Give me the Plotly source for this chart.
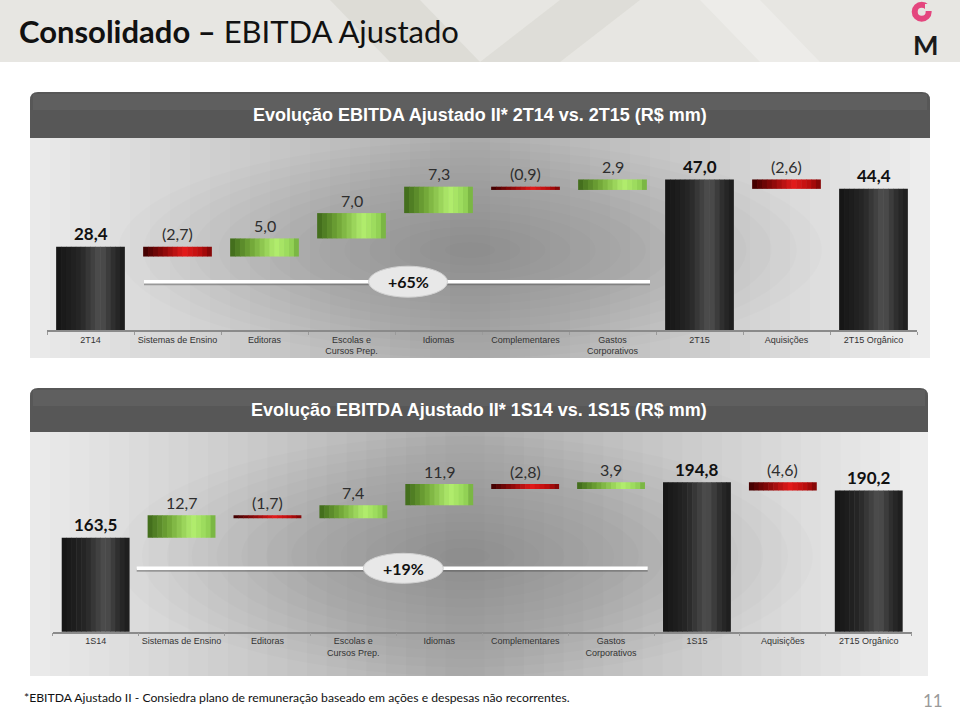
import plotly.graph_objects as go

W, H = 960, 712

# ---------------- data ----------------
cats_q = ["2T14", "Sistemas de Ensino", "Editoras", "Escolas e<br>Cursos Prep.", "Idiomas",
          "Complementares", "Gastos<br>Corporativos", "2T15", "Aquisições", "2T15 Orgânico"]
vals_q = [28.4, -2.7, 5.0, 7.0, 7.3, -0.9, 2.9, 47.0, -2.6, 44.4]

cats_s = ["1S14", "Sistemas de Ensino", "Editoras", "Escolas e<br>Cursos Prep.", "Idiomas",
          "Complementares", "Gastos<br>Corporativos", "1S15", "Aquisições", "2T15 Orgânico"]
vals_s = [163.5, 12.7, -1.7, 7.4, 11.9, -2.8, 3.9, 194.8, -4.6, 190.2]

measures = ["absolute", "relative", "relative", "relative", "relative", "relative",
            "relative", "absolute", "relative", "absolute"]

title_q = "Evolução EBITDA Ajustado II* 2T14 vs. 2T15 (R$ mm)"
title_s = "Evolução EBITDA Ajustado II* 1S14 vs. 1S15 (R$ mm)"
growth_q = "+65%"
growth_s = "+19%"
page_title_bold = "Consolidado –"
page_title_rest = "EBITDA Ajustado"
footnote = "*EBITDA Ajustado II - Consiedra plano de remuneração baseado em ações e despesas não recorrentes."
page_number = "11"

# ---------------- helpers ----------------
def PX(x):
    return x / W


def PY(y):
    return 1 - y / H


def waterfall(vals, meas):
    bases, heights, kinds = [], [], []
    run = 0.0
    for v, m in zip(vals, meas):
        if m == "absolute":
            bases.append(0.0)
            heights.append(v)
            kinds.append("total")
            run = v
        else:
            bases.append(run if v >= 0 else run + v)
            heights.append(abs(v))
            kinds.append("pos" if v >= 0 else "neg")
            run += v
    return bases, heights, kinds


def fmt(v, m):
    s = f"{abs(v):.1f}".replace(".", ",")
    if m == "absolute":
        return f"<b>{s}</b>"
    return f"({s})" if v < 0 else s


STOPS = {
    "total": [(0.0, (20, 20, 20)), (0.35, (38, 38, 38)), (0.64, (80, 80, 80)),
              (0.85, (42, 42, 42)), (1.0, (28, 28, 28))],
    "pos": [(0.0, (62, 104, 26)), (0.3, (112, 165, 55)), (0.66, (178, 238, 110)),
            (0.88, (150, 214, 88)), (1.0, (112, 170, 60))],
    "neg": [(0.0, (60, 0, 0)), (0.3, (140, 10, 10)), (0.6, (226, 26, 26)),
            (0.85, (182, 12, 12)), (1.0, (120, 5, 5))],
}


def grad(stops, t):
    for (t0, c0), (t1, c1) in zip(stops, stops[1:]):
        if t0 <= t <= t1:
            f = (t - t0) / (t1 - t0)
            return "#%02x%02x%02x" % tuple(round(a + (b - a) * f) for a, b in zip(c0, c1))
    return "#%02x%02x%02x" % stops[-1][1]


fig = go.Figure()
shapes = []
annotations = []

# ---------------- slide header ----------------
shapes.append(dict(type="rect", xref="paper", yref="paper", x0=0, x1=1, y0=PY(62), y1=1,
                   fillcolor="#e7e6e2", line_width=0, layer="below"))
shapes.append(dict(type="path", xref="paper", yref="paper",
                   path=f"M {PX(330)},{PY(0)} L {PX(420)},{PY(0)} L {PX(480)},{PY(62)} L {PX(390)},{PY(62)} Z",
                   fillcolor="rgba(150,145,130,0.12)", line_width=0, layer="below"))
shapes.append(dict(type="path", xref="paper", yref="paper",
                   path=f"M {PX(560)},{PY(0)} L {PX(640)},{PY(0)} L {PX(560)},{PY(62)} L {PX(480)},{PY(62)} Z",
                   fillcolor="rgba(150,145,130,0.10)", line_width=0, layer="below"))
shapes.append(dict(type="path", xref="paper", yref="paper",
                   path=f"M {PX(700)},{PY(0)} L {PX(760)},{PY(0)} L {PX(820)},{PY(62)} L {PX(760)},{PY(62)} Z",
                   fillcolor="rgba(255,255,255,0.25)", line_width=0, layer="below"))

annotations.append(dict(xref="paper", yref="paper", x=PX(17), y=PY(31), xanchor="left", yanchor="middle",
                        text=f"<b>{page_title_bold}</b> {page_title_rest}", showarrow=False,
                        font=dict(family="Lato, sans-serif", size=31, color="#111111")))

# logo
shapes.append(dict(type="circle", xref="paper", yref="paper",
                   x0=PX(914.7), x1=PX(928.7), y0=PY(18.7), y1=PY(4.7),
                   line=dict(color="#e4467e", width=6), fillcolor="rgba(0,0,0,0)"))
shapes.append(dict(type="rect", xref="paper", yref="paper",
                   x0=PX(925), x1=PX(934), y0=PY(11), y1=PY(4),
                   line_width=0, fillcolor="#e7e6e2"))
annotations.append(dict(xref="paper", yref="paper", x=PX(926), y=PY(45), xanchor="center", yanchor="middle",
                        text="<b>M</b>", showarrow=False,
                        font=dict(family="Lato, sans-serif", size=27, color="#1a1a1a")))

# ---------------- panels ----------------
panels = [
    dict(cats=cats_q, vals=vals_q, title=title_q, growth=growth_q,
         hx0=30, hx1=930, hy0=92, hy1=138, by1=358,
         xd=(47, 917), yd=(140, 330), yr=(5.4, 57.9),
         gline=(144, 650, 281.7), gell=(408, 281.7, 79, 31), gc=(470, 250)),
    dict(cats=cats_s, vals=vals_s, title=title_s, growth=growth_s,
         hx0=30, hx1=928, hy0=388, hy1=432, by1=676,
         xd=(52.7, 911.7), yd=(440, 631.7), yr=(110.4, 218.7),
         gline=(136.7, 647.7, 568.3), gell=(403.3, 568.3, 80, 30), gc=(465, 556)),
]

BW = 0.79
N = 14
layout_axes = {}

for k, p in enumerate(panels, start=1):
    xa = "x" if k == 1 else f"x{k}"
    ya = "y" if k == 1 else f"y{k}"

    # body background with a soft centre-dark gradient
    shapes.append(dict(type="rect", xref="paper", yref="paper",
                       x0=PX(p["hx0"]), x1=PX(p["hx1"]), y0=PY(p["by1"]), y1=PY(p["hy1"]),
                       fillcolor="#ededed", line_width=0, layer="below"))
    cx, cy = p["gc"]
    rx = min(cx - p["hx0"], p["hx1"] - cx)
    ry = min(cy - p["hy1"], p["by1"] - cy)
    L = 22
    for i in range(L):
        f = 1 - i / L
        shapes.append(dict(type="rect", xref="paper", yref="paper",
                           x0=PX(cx - rx * f), x1=PX(cx + rx * f),
                           y0=PY(p["by1"]), y1=PY(p["hy1"]),
                           fillcolor="rgba(0,0,0,0.011)", line_width=0, layer="below"))
    L2 = 14
    for i in range(L2):
        f = 1 - i / L2
        shapes.append(dict(type="circle", xref="paper", yref="paper",
                           x0=PX(cx - rx * 0.8 * f), x1=PX(cx + rx * 0.8 * f),
                           y0=PY(cy + ry * f), y1=PY(cy - ry * f),
                           fillcolor="rgba(0,0,0,0.011)", line_width=0, layer="below"))
    # header bar with rounded top corners
    x0, x1, y0, y1 = p["hx0"], p["hx1"], p["hy0"], p["hy1"]
    r = 8
    shapes.append(dict(type="path", xref="paper", yref="paper",
                       path=(f"M {PX(x0)},{PY(y1)} L {PX(x0)},{PY(y0 + r)} Q {PX(x0)},{PY(y0)} {PX(x0 + r)},{PY(y0)} "
                             f"L {PX(x1 - r)},{PY(y0)} Q {PX(x1)},{PY(y0)} {PX(x1)},{PY(y0 + r)} L {PX(x1)},{PY(y1)} Z"),
                       fillcolor="#575757", line_width=0, layer="below"))
    shapes.append(dict(type="rect", xref="paper", yref="paper",
                       x0=PX(x0 + 3), x1=PX(x1 - 3), y0=PY(y0 + 18), y1=PY(y0 + 2),
                       fillcolor="rgba(255,255,255,0.05)", line_width=0, layer="below"))
    annotations.append(dict(xref="paper", yref="paper", x=PX((x0 + x1) / 2), y=PY((y0 + y1) / 2),
                            xanchor="center", yanchor="middle", text=f"<b>{p['title']}</b>", showarrow=False,
                            font=dict(family="Liberation Sans, Arial, sans-serif", size=18,
                                      color="white")))

    # growth line + ellipse
    gx0, gx1, gy = p["gline"]
    shapes.append(dict(type="line", xref="paper", yref="paper", x0=PX(gx0), x1=PX(gx1),
                       y0=PY(gy + 2), y1=PY(gy + 2), line=dict(color="rgba(80,80,80,0.45)", width=3)))
    shapes.append(dict(type="line", xref="paper", yref="paper", x0=PX(gx0), x1=PX(gx1),
                       y0=PY(gy), y1=PY(gy), line=dict(color="#ffffff", width=3.5)))
    ex, ey, ew, eh = p["gell"]
    shapes.append(dict(type="circle", xref="paper", yref="paper",
                       x0=PX(ex - ew / 2), x1=PX(ex + ew / 2), y0=PY(ey + eh / 2), y1=PY(ey - eh / 2),
                       fillcolor="#e8e8e8", line=dict(color="#d0d0d0", width=1)))
    annotations.append(dict(xref="paper", yref="paper", x=PX(ex), y=PY(ey), xanchor="center",
                            yanchor="middle", text=f"<b>{p['growth']}</b>", showarrow=False,
                            font=dict(family="Lato, sans-serif", size=16, color="#111111")))

    # bars
    bases, heights, kinds = waterfall(p["vals"], measures)
    for kind in ["total", "pos", "neg"]:
        idx = [j for j, kk in enumerate(kinds) if kk == kind]
        if not idx:
            continue
        for i in range(N):
            t = (i + 0.5) / N
            w = BW / N
            fig.add_bar(x=[p["cats"][j] for j in idx], y=[heights[j] for j in idx],
                        base=[bases[j] for j in idx],
                        offset=-BW / 2 + i * w, width=w + (0.006 if i < N - 1 else 0),
                        marker=dict(color=grad(STOPS[kind], t), line_width=0),
                        xaxis=xa, yaxis=ya, showlegend=False, hoverinfo="skip")

    # value labels
    for j, (c, v, m) in enumerate(zip(p["cats"], p["vals"], measures)):
        top = bases[j] + heights[j]
        annotations.append(dict(xref=xa, yref=ya, x=c, y=top, yshift=13, xanchor="center",
                                yanchor="middle", text=fmt(v, m), showarrow=False,
                                font=dict(family="Lato, sans-serif", size=17 if m == "absolute" else 16,
                                          color="#111111" if m == "absolute" else "#2e2e2e")))

    xd0, xd1 = p["xd"]
    yd0, yd1 = p["yd"]
    layout_axes["xaxis" if k == 1 else f"xaxis{k}"] = dict(
        domain=[PX(xd0), PX(xd1)], anchor=ya, type="category",
        categoryorder="array", categoryarray=p["cats"], range=[-0.5, 9.5],
        showline=True, linecolor="#8a8a8a", linewidth=1.5, tickangle=0,
        ticks="outside", tickson="boundaries", ticklen=3, tickcolor="#9a9a9a",
        showgrid=False, zeroline=False, fixedrange=True,
        tickfont=dict(family="Liberation Sans, Arial, sans-serif", size=9, color="#333333"))
    layout_axes["yaxis" if k == 1 else f"yaxis{k}"] = dict(
        domain=[PY(yd1), PY(yd0)], anchor=xa, range=list(p["yr"]),
        visible=False, showgrid=False, zeroline=False, fixedrange=True)

# ---------------- footer ----------------
annotations.append(dict(xref="paper", yref="paper", x=PX(22), y=PY(697), xanchor="left", yanchor="middle",
                        text=footnote, showarrow=False,
                        font=dict(family="Lato, sans-serif", size=12.2, color="#111111")))
annotations.append(dict(xref="paper", yref="paper", x=PX(945), y=PY(700), xanchor="right", yanchor="middle",
                        text=page_number, showarrow=False,
                        font=dict(family="Lato, sans-serif", size=17, color="#9a9a9a")))

fig.update_layout(
    width=W, height=H, margin=dict(l=0, r=0, t=0, b=0), autosize=False,
    paper_bgcolor="white", plot_bgcolor="rgba(0,0,0,0)",
    barmode="overlay", showlegend=False,
    shapes=shapes, annotations=annotations,
    **layout_axes,
)

fig.write_html("out.html", config={"responsive": False, "displayModeBar": False},
               post_script="document.body.style.margin='0';document.body.style.overflow='hidden';")
